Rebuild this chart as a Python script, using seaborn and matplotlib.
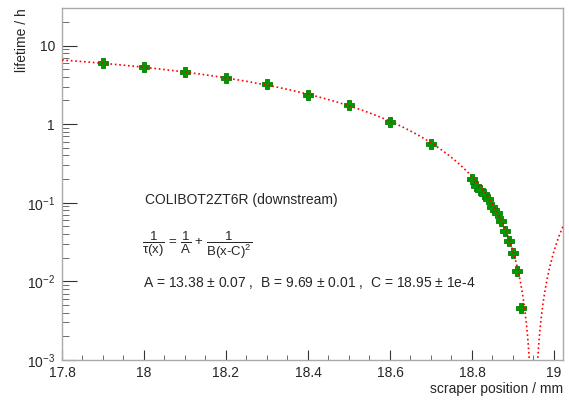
"""
COLIBOT2ZT6R 寿命扫描图
lifetime vs scraper position, 对数纵轴 + 拟合曲线
"""

import numpy as np
import pandas as pd
import matplotlib
matplotlib.use('Agg')
import matplotlib.pyplot as plt
import seaborn as sns
from matplotlib.ticker import FixedLocator, FixedFormatter, LogLocator, NullFormatter, MultipleLocator

position = [17.9, 18.0, 18.1, 18.2, 18.3, 18.4, 18.5, 18.6, 18.7,
            18.80, 18.81, 18.82, 18.83, 18.84, 18.85, 18.86, 18.87,
            18.88, 18.89, 18.90, 18.91, 18.92]
lifetime = [6.06, 5.39, 4.57, 3.84, 3.22, 2.37, 1.74, 1.08, 0.555,
            0.201, 0.165, 0.146, 0.128, 0.112, 0.089, 0.0734, 0.0586,
            0.0441, 0.033, 0.0232, 0.0136, 0.00455]

# 拟合参数
A, B, C = 13.38, 9.69, 18.95

y_ticks = [1e-3, 1e-2, 1e-1, 1, 10]
y_tick_labels = ['$10^{-3}$', '$10^{-2}$', '$10^{-1}$', '1', '10']

sns.set_theme(style='ticks')
plt.rcParams['font.family'] = ['Liberation Sans', 'DejaVu Sans']
plt.rcParams['mathtext.fontset'] = 'custom'
plt.rcParams['mathtext.rm'] = 'Liberation Sans'
plt.rcParams['mathtext.it'] = 'Liberation Sans'
plt.rcParams['mathtext.bf'] = 'Liberation Sans:bold'

fig = plt.figure(figsize=(5.69, 4.01), dpi=100)
ax = fig.add_axes([62 / 569, 41 / 401, 501 / 569, 352 / 401])

# 拟合曲线 tau(x) = 1 / (1/A + 1/(B(x-C)^2))
xf = np.linspace(17.8, 19.022, 3000)
yf = 1.0 / (1.0 / A + 1.0 / (B * (xf - C) ** 2))
fit = pd.DataFrame({'x': xf, 'y': yf})

df = pd.DataFrame({'x': position, 'y': lifetime})
sns.scatterplot(x='x', y='y', data=df, ax=ax, marker='P', s=55,
                color='#009a00', edgecolor='#008000', linewidth=0.6, zorder=3)
sns.lineplot(x='x', y='y', data=fit, ax=ax, color='red', linestyle=':',
             linewidth=1.2, sort=False, estimator=None, zorder=4)

ax.set_yscale('log')
ax.set_xlim(17.8, 19.022)
ax.set_ylim(1e-3, 30)

ax.xaxis.set_major_locator(MultipleLocator(0.2))
ax.xaxis.set_minor_locator(MultipleLocator(0.05))
ax.xaxis.set_major_formatter(plt.FuncFormatter(lambda v, p: f'{v:g}'))
ax.yaxis.set_major_locator(FixedLocator(y_ticks))
ax.yaxis.set_major_formatter(FixedFormatter(y_tick_labels))
ax.yaxis.set_minor_locator(LogLocator(base=10, subs=np.arange(2, 10)))
ax.yaxis.set_minor_formatter(NullFormatter())

ax.tick_params(axis='x', which='major', direction='in', length=7, width=0.8,
               color='#333333', labelsize=10, pad=4)
ax.tick_params(axis='x', which='minor', direction='in', length=3.5, width=0.6,
               color='#555555')
ax.tick_params(axis='y', which='major', direction='in', length=11, width=0.8,
               color='#333333', labelsize=10, pad=5)
ax.tick_params(axis='y', which='minor', direction='in', length=5, width=0.6,
               color='#555555')

for side in ['left', 'bottom', 'top', 'right']:
    ax.spines[side].set_visible(True)
    ax.spines[side].set_color('#aaaaaa')
    ax.spines[side].set_linewidth(1.0)

ax.set_xlabel('scraper position / mm', fontsize=10, loc='right')
ax.xaxis.set_label_coords(1.0, -0.062)
ax.set_ylabel('lifetime / h', fontsize=10, loc='top')
ax.yaxis.set_label_coords(-0.066, 1.0)

# 注释文字
ax.text(17.8 + (145 - 62) / 410, 0.108, 'COLIBOT2ZT6R (downstream)',
        fontsize=10, va='center', ha='left')
ax.text(17.8 + (142 - 62) / 410, 0.029,
        r'$\dfrac{1}{\tau(x)}\,=\,\dfrac{1}{A}\,+\,\dfrac{1}{B(x\text{-}C)^2}$',
        fontsize=9.5, va='center', ha='left')
ax.text(17.8 + (143 - 62) / 410, 0.0094,
        r'A = 13.38 $\pm$ 0.07 ,  B = 9.69 $\pm$ 0.01 ,  C = 18.95 $\pm$ 1e-4',
        fontsize=10, va='center', ha='left')

fig.savefig('out.png', dpi=100)
plt.close()
